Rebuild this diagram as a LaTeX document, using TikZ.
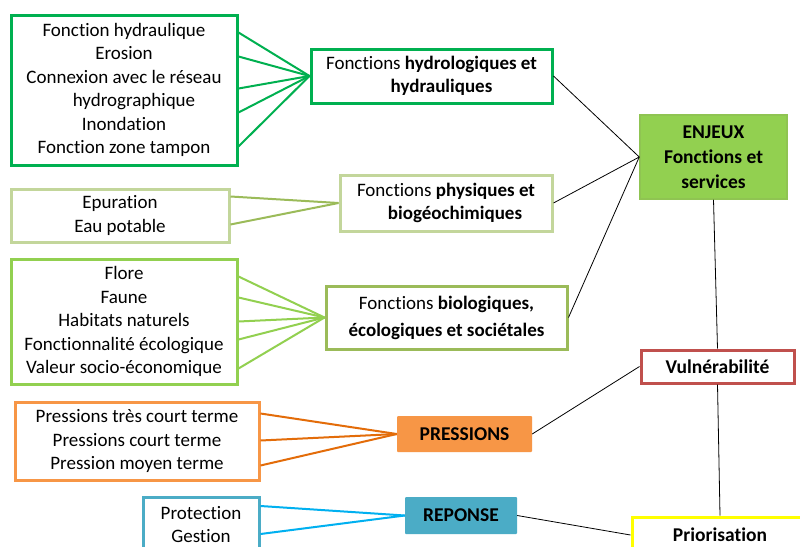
\documentclass[tikz,border=0pt]{standalone}
\usepackage{fontspec}
\setmainfont{Carlito}[Ligatures=NoCommon]
\definecolor{cgreen}{HTML}{00B050}
\definecolor{clight}{HTML}{C3D69B}
\definecolor{colive}{HTML}{9BBB59}
\definecolor{clime}{HTML}{92D050}
\definecolor{cenj}{HTML}{8FC452}
\definecolor{cred}{HTML}{C0504D}
\definecolor{corange}{HTML}{F79646}
\definecolor{cdorange}{HTML}{E36C09}
\definecolor{cblue}{HTML}{4BACC6}
\definecolor{ccyan}{HTML}{00B0F0}
\definecolor{cyellow}{HTML}{FFFF00}
\begin{document}
\begin{tikzpicture}[x=1pt,y=-1pt,
  box/.style={draw, line width=3pt, rectangle, inner sep=0pt, align=center,
    font=\fontsize{19}{23.5}\selectfont},
  lbl/.style={rectangle, inner sep=0pt, align=center,
    font=\bfseries\fontsize{19.5}{25}\selectfont},
  link/.style={draw=black, line width=0.8pt},
  fan/.style={line width=2pt}]
\useasboundingbox (0,0) rectangle (800,546);
\fill[white] (0,0) rectangle (800,546);
\clip (0,0) rectangle (800,546);

% left detail boxes
\node[box, draw=cgreen, minimum width=226pt, minimum height=150pt] (b1) at (124,90)
  {Fonction hydraulique\\Erosion\\Connexion avec le réseau\\\hspace*{20pt}hydrographique\\Inondation\\Fonction zone tampon};
\node[box, draw=clight, minimum width=218pt, minimum height=53pt] (b2) at (120,215.5)
  {Epuration\\Eau potable};
\node[box, draw=clime, minimum width=226pt, minimum height=125pt] (b3) at (124,321.5)
  {Flore\\Faune\\Habitats naturels\\Fonctionnalité écologique\\Valeur socio-économique};
\node[box, draw=corange, minimum width=244pt, minimum height=78pt] (pbox) at (137,441)
  {Pressions très court terme\\Pressions court terme\\Pression moyen terme};
\node[box, draw=cblue, minimum width=116pt, minimum height=54pt] (prot) at (201,524.5)
  {Protection\\Gestion};

% middle boxes
\node[box, draw=cgreen, minimum width=241pt, minimum height=54pt] (hydro) at (431.5,76)
  {Fonctions \textbf{hydrologiques et}\\\hspace*{20pt}\textbf{hydrauliques}};
\node[box, draw=clight, minimum width=212pt, minimum height=56pt] (phys) at (446,203)
  {Fonctions \textbf{physiques et}\\\hspace*{18pt}\textbf{biogéochimiques}};
\node[box, draw=colive, minimum width=241pt, minimum height=63pt] (bio) at (446.5,317.5)
  {Fonctions \textbf{biologiques,}\\[3.5pt]\textbf{écologiques et sociétales}};
\node[lbl, fill=corange, rounded corners=1pt, minimum width=135pt, minimum height=36pt] (pres) at (464.5,434) {PRESSIONS};
\node[lbl, fill=cblue, rounded corners=1pt, minimum width=112pt, minimum height=37pt] (rep) at (461,515.5) {REPONSE};

% right boxes
\node[lbl, fill=clime, draw=cenj, line width=1.5pt, minimum width=147pt, minimum height=84pt] (enj) at (713.5,157)
  {ENJEUX\\Fonctions et\\services};
\node[lbl, draw=cred, line width=3pt, minimum width=153pt, minimum height=33pt] (vuln) at (717.5,366.5) {Vulnérabilité};
\node[lbl, draw=cyellow, line width=3pt, minimum width=176pt, minimum height=36pt] (prio) at (720,535) {Priorisation};

% fans
\foreach \d in {19,43,75,99,133} \draw[fan, cgreen] ([yshift=-\d pt]b1.north east) -- (hydro.west);
\foreach \d in {9,37} \draw[fan, colive] ([yshift=-\d pt]b2.north east) -- (phys.west);
\foreach \d in {19,40,64,82,111} \draw[fan, clime] ([yshift=-\d pt]b3.north east) -- (bio.west);
\foreach \d in {13,40,65} \draw[fan, cdorange] ([yshift=-\d pt]pbox.north east) -- (pres.west);
\foreach \d in {10,38} \draw[fan, ccyan] ([yshift=-\d pt]prot.north east) -- (rep.west);

% links
\draw[link] (hydro.east) -- (enj.west);
\draw[link] (phys.east) -- (enj.west);
\draw[link] (bio.east) -- (enj.west);
\draw[link] (enj.south) -- (vuln.north);
\draw[link] (vuln.south) -- (prio.north);
\draw[link] (pres.east) -- (vuln.west);
\draw[link] (rep.east) -- (prio.west);
\end{tikzpicture}
\end{document}
